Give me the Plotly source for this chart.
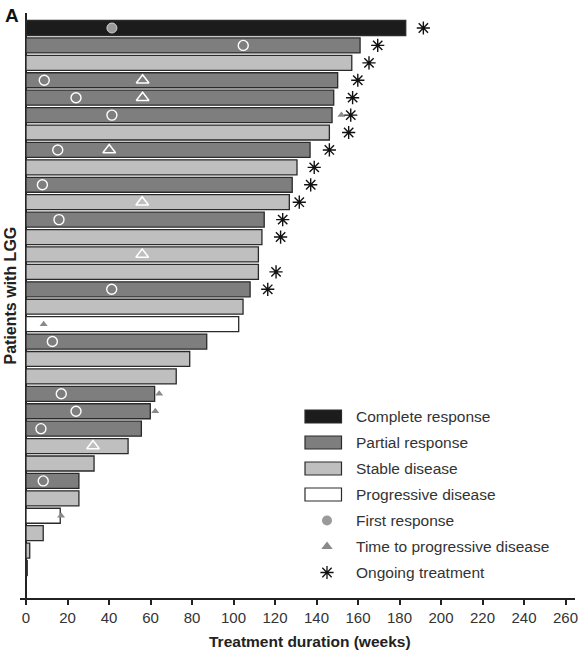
import plotly.graph_objects as go

# ---------------- data ----------------
response = ["CR", "PR", "SD", "PR", "PR", "PR", "SD", "PR", "SD", "PR",
            "SD", "PR", "SD", "SD", "SD", "PR", "SD", "PD", "PR", "SD",
            "SD", "PR", "PR", "PR", "SD", "SD", "PR", "SD", "PD", "SD",
            "SD", "PD"]
duration = [183.0, 161.0, 157.0, 150.2, 148.3, 147.5, 146.2, 136.9, 130.6, 128.3,
            126.9, 114.8, 113.7, 112.0, 112.0, 108.0, 104.6, 102.5, 87.1, 78.9,
            72.4, 62.0, 59.9, 55.6, 49.2, 32.8, 25.5, 25.5, 16.5, 8.3,
            1.8, 0.6]
first_response = [41.4, 104.7, None, 8.8, 24.1, 41.4, None, 15.3, None, 7.9,
                  None, 15.9, None, None, None, 41.3, None, None, 12.7, None,
                  None, 17.0, 24.1, 7.2, None, None, 8.3, None, None, None,
                  None, None]
progression = [None, None, None, 56.2, 56.2, 152.0, None, 40.1, None, None,
               56.0, None, None, 56.0, None, None, None, 8.5, None, None,
               None, 64.2, 62.3, None, 32.3, None, None, None, 16.9, None,
               None, None]
ongoing_at = [191.5, 169.5, 165.3, 159.9, 157.4, 156.5, 155.5, 146.2, 138.9, 137.2,
              131.7, 123.7, 122.7, None, 120.5, 116.5, None, None, None, None,
              None, None, None, None, None, None, None, None, None, None,
              None, None]
x_ticks = list(range(0, 261, 20))

cat_names = {"CR": "Complete response", "PR": "Partial response",
             "SD": "Stable disease", "PD": "Progressive disease"}
cat_colors = {"CR": "#1c1c1c", "PR": "#7e7e7e", "SD": "#bfbfbf", "PD": "#ffffff"}
legend_labels = ["Complete response", "Partial response", "Stable disease",
                 "Progressive disease", "First response",
                 "Time to progressive disease", "Ongoing treatment"]

FONT = "Liberation Sans, Arial, sans-serif"
patients = list(range(len(duration)))

fig = go.Figure()

# bars
for cat in ["CR", "PR", "SD", "PD"]:
    idx = [i for i, r in enumerate(response) if r == cat]
    fig.add_trace(go.Bar(
        x=[duration[i] for i in idx], y=[patients[i] for i in idx],
        orientation="h", base=0, width=0.86,
        marker=dict(color=cat_colors[cat], line=dict(color="#2a2a2a", width=1.3)),
        name=cat_names[cat], showlegend=False, hoverinfo="x"))

# first response markers
fr_open = [i for i, v in enumerate(first_response) if v is not None and response[i] != "CR"]
fr_fill = [i for i, v in enumerate(first_response) if v is not None and response[i] == "CR"]
fig.add_trace(go.Scatter(
    x=[first_response[i] for i in fr_open], y=[patients[i] for i in fr_open],
    mode="markers", showlegend=False,
    marker=dict(symbol="circle-open", size=10, color="white", line=dict(width=1.4))))
fig.add_trace(go.Scatter(
    x=[first_response[i] for i in fr_fill], y=[patients[i] for i in fr_fill],
    mode="markers", showlegend=False,
    marker=dict(symbol="circle", size=10, color="#9a9a9a", line=dict(color="#d0d0d0", width=1))))

# progression markers
pr_in = [i for i, v in enumerate(progression)
         if v is not None and v < duration[i] and response[i] != "PD"]
pr_out = [i for i, v in enumerate(progression)
          if v is not None and not (v < duration[i] and response[i] != "PD")]
fig.add_trace(go.Scatter(
    x=[progression[i] for i in pr_in], y=[patients[i] for i in pr_in],
    mode="markers", showlegend=False,
    marker=dict(symbol="triangle-up-open", size=11, color="white", line=dict(width=1.5))))
fig.add_trace(go.Scatter(
    x=[progression[i] for i in pr_out], y=[patients[i] for i in pr_out],
    mode="markers", showlegend=False,
    marker=dict(symbol="triangle-up", size=7, color="#8a8a8a", line=dict(width=0))))

# ongoing treatment
og = [i for i, v in enumerate(ongoing_at) if v is not None]
fig.add_trace(go.Scatter(
    x=[ongoing_at[i] for i in og], y=[patients[i] for i in og],
    mode="markers", showlegend=False,
    marker=dict(symbol="asterisk-open", size=11, color="#111111", line=dict(width=1.4))))

# ---------------- layout geometry (window pixels) ----------------
W, H = 582, 653
PLOT_L, PLOT_R, PLOT_T, PLOT_B = 20, 575, 13, 598
ML, MR, MT, MB = PLOT_L, W - PLOT_R, PLOT_T, H - PLOT_B
PW, PH = PLOT_R - PLOT_L, PLOT_B - PLOT_T
px_per_week = 2.075
xmin = -(26 - PLOT_L) / px_per_week
xmax = xmin + PW / px_per_week
pitch = 17.42
ymin = -(28 - PLOT_T) / pitch
ymax = ymin + PH / pitch


def px2paper_x(px):
    return (px - PLOT_L) / PW


def px2paper_y(py):
    return (PLOT_B - py) / PH


# custom legend
shapes = []
annotations = []
row0, step = 416.5, 26.0
bar_cats = ["CR", "PR", "SD", "PD"]
for k, lab in enumerate(legend_labels):
    cy = row0 + k * step
    if k < 4:
        shapes.append(dict(type="rect", xref="paper", yref="paper",
                           x0=px2paper_x(305), x1=px2paper_x(341.5),
                           y0=px2paper_y(cy + 6.5), y1=px2paper_y(cy - 6.5),
                           fillcolor=cat_colors[bar_cats[k]],
                           line=dict(color="#2a2a2a", width=1.2)))
    annotations.append(dict(text=lab, x=px2paper_x(354), y=px2paper_y(cy),
                            xref="paper", yref="paper", xanchor="left", yanchor="middle",
                            showarrow=False, font=dict(family=FONT, size=15.5, color="#333333")))

leg_sym = ["circle", "triangle-up", "asterisk-open"]
leg_col = ["#9a9a9a", "#8a8a8a", "#111111"]
for j in range(3):
    cy = row0 + (4 + j) * step
    fig.add_trace(go.Scatter(
        x=[px2paper_x(327)], y=[px2paper_y(cy)], xaxis="x2", yaxis="y2",
        mode="markers", showlegend=False, hoverinfo="skip",
        marker=dict(symbol=leg_sym[j], size=10 if j < 2 else 11, color=leg_col[j],
                    line=dict(width=1.3 if j == 2 else 0))))

annotations += [
    dict(text="<b>Treatment duration (weeks)</b>", x=px2paper_x(310), y=px2paper_y(641),
         xref="paper", yref="paper", xanchor="center", yanchor="middle", showarrow=False,
         font=dict(family=FONT, size=15.5, color="#222222")),
    dict(text="<b>Patients with LGG</b>", x=px2paper_x(10.5), y=px2paper_y(296),
         xref="paper", yref="paper", xanchor="center", yanchor="middle", showarrow=False,
         textangle=-90, font=dict(family=FONT, size=16, color="#222222")),
    dict(text="<b>A</b>", x=px2paper_x(12), y=px2paper_y(16),
         xref="paper", yref="paper", xanchor="center", yanchor="middle", showarrow=False,
         font=dict(family=FONT, size=19, color="#111111")),
]

fig.update_layout(
    width=W, height=H, margin=dict(l=ML, r=MR, t=MT, b=MB),
    paper_bgcolor="white", plot_bgcolor="white",
    barmode="overlay", showlegend=False, hovermode=False,
    font=dict(family=FONT, size=15, color="#333333"),
    xaxis=dict(range=[xmin, xmax], tickvals=x_ticks, ticks="outside", ticklen=5,
               tickwidth=1.5, tickcolor="#222222", showline=True, linecolor="#222222",
               linewidth=1.5, showgrid=False, zeroline=True, zerolinecolor="#222222",
               zerolinewidth=1.5, automargin=False,
               tickfont=dict(family=FONT, size=15, color="#333333")),
    yaxis=dict(range=[ymax, ymin], showticklabels=False, showgrid=False, zeroline=False,
               showline=False, ticks="", automargin=False),
    xaxis2=dict(overlaying="x", range=[0, 1], visible=False),
    yaxis2=dict(overlaying="y", range=[0, 1], visible=False),
    shapes=shapes, annotations=annotations,
)

# remove the page's default 8px body margin so the figure sits at the window origin
fig.write_html("out.html", config={"displayModeBar": False},
               post_script="document.body.style.margin='0';")
